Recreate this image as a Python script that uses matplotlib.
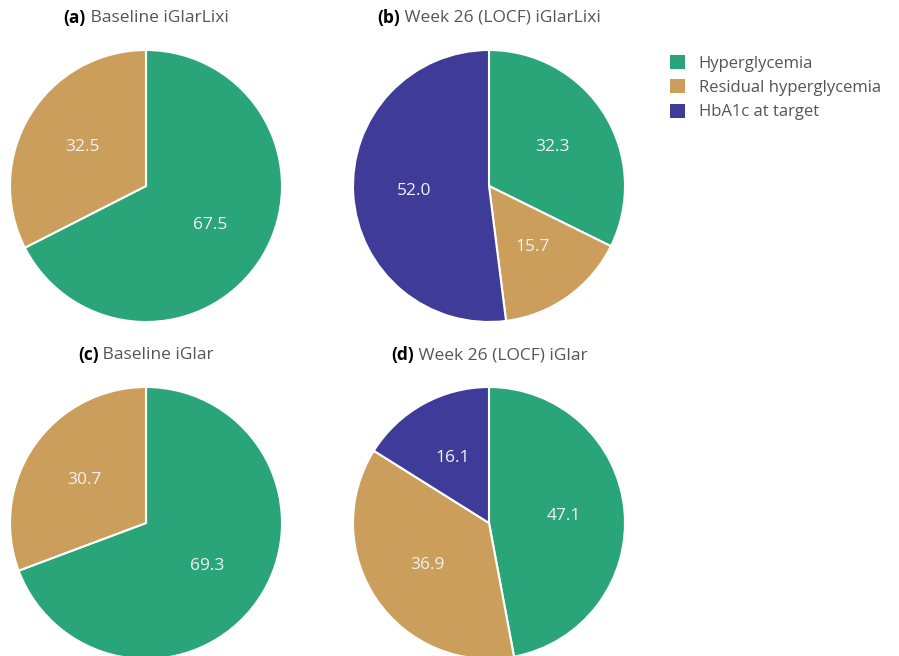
import matplotlib.pyplot as plt
from matplotlib.patches import Patch

# ── data ────────────────────────────────────────────────────────────────
categories = ["Hyperglycemia", "Residual hyperglycemia", "HbA1c at target"]
colors = ["#2aa57a", "#cc9e5c", "#3f3c99"]

panel_tags = ["(a)", "(b)", "(c)", "(d)"]
panel_titles = ["Baseline iGlarLixi", "Week 26 (LOCF) iGlarLixi",
                "Baseline iGlar", "Week 26 (LOCF) iGlar"]
panel_values = [
    [67.5, 32.5],
    [32.3, 15.7, 52.0],
    [69.3, 30.7],
    [47.1, 36.9, 16.1],
]

plt.rcParams["font.family"] = ["Open Sans", "DejaVu Sans"]

W, H = 899, 656
fig = plt.figure(figsize=(W / 100, H / 100), dpi=100)
fig.patch.set_facecolor("white")

R = 136
centers = [(146, 186), (489, 186), (146, 523), (489, 523)]
title_y = [18, 18, 355, 355]

renderer = fig.canvas.get_renderer()


def add_title(cx, cy, tag, text):
    y = 1 - cy / H
    a = fig.text(0, y, tag, fontsize=12.5, weight="bold", color="black",
                 va="center", ha="left")
    b = fig.text(0, y, " " + text, fontsize=12.5, color="#555555",
                 va="center", ha="left")
    wa = a.get_window_extent(renderer).width
    wb = b.get_window_extent(renderer).width
    x0 = cx - (wa + wb) / 2
    a.set_x(x0 / W)
    b.set_x((x0 + wa) / W)


for (cx, cy), tag, ttl, vals, ty in zip(centers, panel_tags, panel_titles,
                                        panel_values, title_y):
    ax = fig.add_axes([(cx - R) / W, (H - cy - R) / H, 2 * R / W, 2 * R / H])
    it = iter(vals)
    ax.pie(vals, colors=colors[:len(vals)], startangle=90, counterclock=False,
           autopct=lambda p, it=it: f"{next(it):.1f}", pctdistance=0.55,
           wedgeprops=dict(edgecolor="white", linewidth=1.5),
           textprops=dict(color="#f2f2f2", fontsize=12.5))
    ax.set_xlim(-1.0, 1.0)
    ax.set_ylim(-1.0, 1.0)
    ax.set_aspect("equal")
    ax.axis("off")
    add_title(cx, ty, tag, ttl)

handles = [Patch(facecolor=c, edgecolor="none") for c in colors]
leg = fig.legend(handles, categories, loc="upper left",
                 bbox_to_anchor=(662 / W, 1 - 47 / H), frameon=False,
                 fontsize=12, handlelength=0.9, handleheight=0.9,
                 handletextpad=0.8, labelspacing=0.45, borderpad=0)
for t in leg.get_texts():
    t.set_color("#555555")

fig.savefig("out.png", dpi=100, facecolor="white")
